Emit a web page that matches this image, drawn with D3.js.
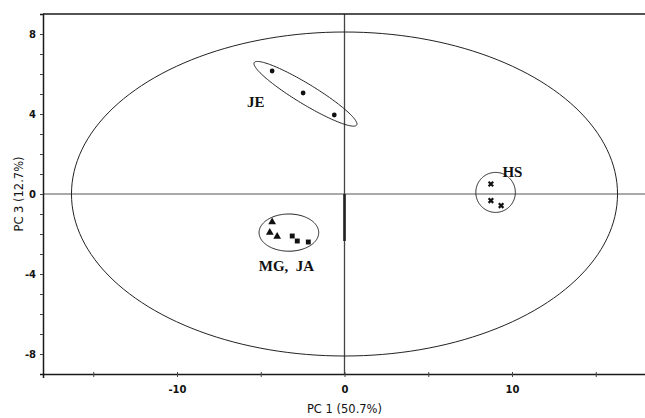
<!DOCTYPE html>
<html>
<head>
<meta charset="utf-8">
<script src="https://cdn.jsdelivr.net/npm/d3@7"></script>
<style>
  html, body { margin: 0; padding: 0; background: #fff; }
  svg { display: block; }
</style>
</head>
<body>
<svg id="chart" width="645" height="418"></svg>
<script>
// PCA score plot, PC 1 vs PC 3
const xDomain = [-18, 18];
const yDomain = [-9, 9];
const xTickLabels = [-10, 0, 10];
const xMinorTicks = [-15, -10, -5, 0, 5, 10, 15];
const yTickLabels = [-8, -4, 0, 4, 8];
const yMinorTicks = [-8, -7, -6, -5, -4, -3, -2, -1, 0, 1, 2, 3, 4, 5, 6, 7, 8];

// sample scores
const jePC1 = [-4.32, -2.47, -0.61];
const jePC3 = [6.15, 5.05, 3.95];
const mgPC1 = [-4.32, -4.46, -4.02];
const mgPC3 = [-1.40, -1.92, -2.12];
const jaPC1 = [-3.12, -2.82, -2.16];
const jaPC3 = [-2.10, -2.35, -2.40];
const hsPC1 = [8.74, 8.74, 9.35];
const hsPC3 = [0.50, -0.33, -0.58];

// confidence ellipses: centre, major semi-axis vector, minor semi-axis vector (score units)
const ellipseNames = ["T2", "JE", "MG-JA", "HS"];
const ellipseCx = [0, -2.33, -3.32, 9.02];
const ellipseCy = [0, 5.01, -1.93, 0.08];
const ellipseAx = [16.3, 3.06, 1.78, 1.18];
const ellipseAy = [0, -1.56, 0, 0];
const ellipseBx = [0, 0.31, 0, 0];
const ellipseBy = [8.1, 0.43, 0.93, 1.0];

// group labels (left x, baseline y in score units)
const groupLabels = ["JE", "MG,\u00a0\u00a0JA", "HS"];
const groupLabelX = [-5.82, -5.12, 9.43];
const groupLabelY = [4.35, -3.85, 0.85];

// emphasised segment on the PC 1 = 0 line
const segmentX = [0, 0];
const segmentY = [0, -2.35];

const svg = d3.select("#chart");
const x = d3.scaleLinear().domain(xDomain).range([43, 646]);
const y = d3.scaleLinear().domain(yDomain).range([374, 14]);

const axisColor = "#1a1a1a";
const tickFont = "'DejaVu Sans', Verdana, sans-serif";

// zero lines
svg.append("line")
  .attr("x1", x(xDomain[0])).attr("x2", x(xDomain[1]))
  .attr("y1", y(0)).attr("y2", y(0))
  .attr("stroke", "#555").attr("stroke-width", 1);
svg.append("line")
  .attr("x1", x(0)).attr("x2", x(0))
  .attr("y1", y(yDomain[1])).attr("y2", y(yDomain[0]))
  .attr("stroke", "#444").attr("stroke-width", 1.3);
svg.append("line")
  .attr("x1", x(segmentX[0])).attr("x2", x(segmentX[1]))
  .attr("y1", y(segmentY[0])).attr("y2", y(segmentY[1]))
  .attr("stroke", "#222").attr("stroke-width", 2.6);

// frame: top line
svg.append("line")
  .attr("x1", x(xDomain[0])).attr("x2", x(xDomain[1]))
  .attr("y1", y(yDomain[1])).attr("y2", y(yDomain[1]))
  .attr("stroke", axisColor).attr("stroke-width", 1.5);

// axes
const xAxis = d3.axisBottom(x).tickValues(xMinorTicks).tickSize(4)
  .tickFormat(d => xTickLabels.includes(d) ? d3.format("d")(d) : "");
const gx = svg.append("g").attr("transform", `translate(0,${y(yDomain[0])})`).call(xAxis);
gx.select(".domain").attr("stroke", axisColor).attr("stroke-width", 1.5);
gx.selectAll(".tick line").attr("stroke", "#444").attr("y1", -2).attr("y2", 3);
gx.selectAll(".tick text")
  .attr("y", 12).attr("dy", "0.71em")
  .attr("font-family", tickFont).attr("font-weight", "bold")
  .attr("font-size", 10).attr("fill", "#111")
  .text(d => xTickLabels.includes(d) ? (d < 0 ? "-" + Math.abs(d) : String(d)) : "");

const yAxis = d3.axisLeft(y).tickValues(yMinorTicks).tickSize(3)
  .tickFormat(d => yTickLabels.includes(d) ? String(d) : "");
const gy = svg.append("g").attr("transform", `translate(${x(xDomain[0])},0)`).call(yAxis);
gy.select(".domain").attr("stroke", axisColor).attr("stroke-width", 1.5);
gy.selectAll(".tick line").attr("stroke", "#444");
gy.selectAll(".tick text")
  .attr("x", -7)
  .attr("font-family", tickFont).attr("font-weight", "bold")
  .attr("font-size", 10).attr("fill", "#111")
  .text(d => yTickLabels.includes(d) ? (d < 0 ? "-" + Math.abs(d) : String(d)) : "");

// axis titles
svg.append("text")
  .attr("x", x(0)).attr("y", 413)
  .attr("text-anchor", "middle")
  .attr("font-family", tickFont).attr("font-size", 11.5).attr("fill", "#111")
  .text("PC 1 (50.7%)");
svg.append("text")
  .attr("transform", `translate(23,${y(0)}) rotate(-90)`)
  .attr("text-anchor", "middle")
  .attr("font-family", tickFont).attr("font-size", 11.5).attr("fill", "#111")
  .text("PC 3 (12.7%)");

// ellipses
const tSteps = d3.range(0, 361, 2).map(d => d * Math.PI / 180);
const line = d3.line().x(p => x(p[0])).y(p => y(p[1])).curve(d3.curveLinearClosed);
ellipseNames.forEach((name, i) => {
  const pts = tSteps.map(t => [
    ellipseCx[i] + ellipseAx[i] * Math.cos(t) + ellipseBx[i] * Math.sin(t),
    ellipseCy[i] + ellipseAy[i] * Math.cos(t) + ellipseBy[i] * Math.sin(t)
  ]);
  svg.append("path")
    .attr("class", "ellipse-" + name)
    .attr("d", line(pts))
    .attr("fill", "none")
    .attr("stroke", "#222")
    .attr("stroke-width", 1);
});

// markers
const zipPts = (xs, ys) => xs.map((v, i) => [v, ys[i]]);

svg.append("g").selectAll("circle")
  .data(zipPts(jePC1, jePC3)).join("circle")
  .attr("cx", d => x(d[0])).attr("cy", d => y(d[1]))
  .attr("r", 2.4).attr("fill", "#111");

svg.append("g").selectAll("path")
  .data(zipPts(mgPC1, mgPC3)).join("path")
  .attr("transform", d => `translate(${x(d[0])},${y(d[1])})`)
  .attr("d", d3.symbol().type(d3.symbolTriangle).size(26)())
  .attr("fill", "#111");

svg.append("g").selectAll("path")
  .data(zipPts(jaPC1, jaPC3)).join("path")
  .attr("transform", d => `translate(${x(d[0])},${y(d[1])})`)
  .attr("d", d3.symbol().type(d3.symbolSquare).size(24)())
  .attr("fill", "#111");

const cross = "M-2.3,-2.3L2.3,2.3M-2.3,2.3L2.3,-2.3";
svg.append("g").selectAll("path")
  .data(zipPts(hsPC1, hsPC3)).join("path")
  .attr("transform", d => `translate(${x(d[0])},${y(d[1])})`)
  .attr("d", cross)
  .attr("stroke", "#111").attr("stroke-width", 2.2).attr("fill", "none");

// group labels
svg.append("g").selectAll("text")
  .data(groupLabels).join("text")
  .attr("x", (d, i) => x(groupLabelX[i]))
  .attr("y", (d, i) => y(groupLabelY[i]))
  .attr("font-family", "'Liberation Serif', 'Times New Roman', serif")
  .attr("font-weight", "bold").attr("font-size", 15).attr("fill", "#111")
  .text(d => d);
</script>
</body>
</html>
